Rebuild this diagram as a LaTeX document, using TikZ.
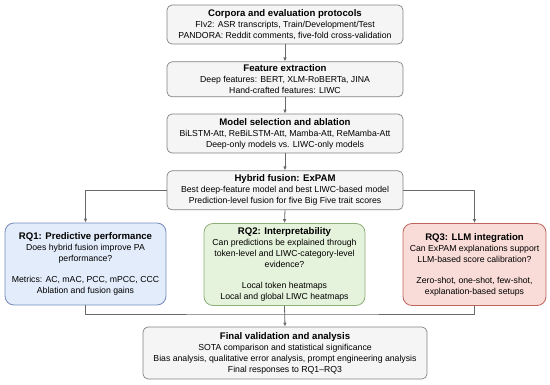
\documentclass[tikz,border=0pt]{standalone}
\usepackage{fontspec}
\setmainfont{Liberation Sans}
\usetikzlibrary{arrows.meta}

\definecolor{boxgray}{RGB}{245,245,245}
\definecolor{edgegray}{RGB}{130,130,130}
\definecolor{linegray}{RGB}{105,105,105}
\definecolor{rqblue}{RGB}{227,236,250}
\definecolor{rqblueedge}{RGB}{116,140,186}
\definecolor{rqgreen}{RGB}{229,242,220}
\definecolor{rqgreenedge}{RGB}{140,176,118}
\definecolor{rqred}{RGB}{249,220,216}
\definecolor{rqrededge}{RGB}{190,100,92}

\newcommand{\boxtitle}[1]{{\fontsize{9.6}{11}\selectfont\bfseries #1}}

\begin{document}
\begin{tikzpicture}[x=1pt,y=-1pt,line cap=round,line join=round,
    txt/.style={font=\fontsize{8.7}{11}\selectfont,align=center,inner sep=0pt},
    stagebox/.style={txt,draw=edgegray,fill=boxgray,line width=0.7pt,rounded corners=5pt,minimum width=236pt},
    rqbox/.style={txt,line width=0.8pt,rounded corners=9pt,minimum height=82pt},
    flow/.style={draw=linegray,line width=0.8pt,-{Latex[length=4pt,width=3.5pt]}},
    link/.style={draw=linegray,line width=0.8pt}]
        % Marco de la figura
        \useasboundingbox (0,0) rectangle (550,384);

        % Etapas principales
        \node[stagebox,minimum height=39pt] (corpora) at (285,24.5)
            {\boxtitle{Corpora and evaluation protocols}\\
             FIv2: ASR transcripts, Train/Development/Test\\
             PANDORA: Reddit comments, five-fold cross-validation};
        \node[stagebox,minimum height=35pt] (features) at (285,79.3)
            {\boxtitle{Feature extraction}\\
             Deep features: BERT, XLM-RoBERTa, JINA\\
             Hand-crafted features: LIWC};
        \node[stagebox,minimum height=39pt] (models) at (285,133.5)
            {\boxtitle{Model selection and ablation}\\
             BiLSTM-Att, ReBiLSTM-Att, Mamba-Att, ReMamba-Att\\
             Deep-only models vs. LIWC-only models};
        \node[stagebox,minimum height=39pt] (fusion) at (285,190.3)
            {\boxtitle{Hybrid fusion: ExPAM}\\
             Best deep-feature model and best LIWC-based model\\
             Prediction-level fusion for five Big Five trait scores};

        % Preguntas de investigación
        \node[rqbox,draw=rqblueedge,fill=rqblue,minimum width=161pt] (rqone) at (85.5,264)
            {\boxtitle{RQ1: Predictive performance}\\
             Does hybrid fusion improve PA\\
             performance?\\[10pt]
             Metrics: AC, mAC, PCC, mPCC, CCC\\
             Ablation and fusion gains};
        \node[rqbox,draw=rqgreenedge,fill=rqgreen,minimum width=161pt] (rqtwo) at (284.5,264.5)
            {\boxtitle{RQ2: Interpretability}\\
             Can predictions be explained through\\
             token-level and LIWC-category-level\\
             evidence?\\[10pt]
             Local token heatmaps\\
             Local and global LIWC heatmaps};
        \node[rqbox,draw=rqrededge,fill=rqred,minimum width=143pt] (rqthree) at (474.5,264.5)
            {\boxtitle{RQ3: LLM integration}\\
             Can ExPAM explanations support\\
             LLM-based score calibration?\\[10pt]
             Zero-shot, one-shot, few-shot,\\
             explanation-based setups};

        % Validación final
        \node[stagebox,minimum width=284pt,minimum height=52pt] (final) at (285,353)
            {\boxtitle{Final validation and analysis}\\
             SOTA comparison and statistical significance\\
             Bias analysis, qualitative error analysis, prompt engineering analysis\\
             Final responses to RQ1--RQ3};

        % Flechas entre etapas
        \draw[flow] (corpora) -- (features);
        \draw[flow] (features) -- (models);
        \draw[flow] (models) -- (fusion);

        % Ramas hacia las preguntas
        \draw[flow] (fusion.west) -| (rqone.north);
        \draw[flow] (fusion.south) -- (rqtwo.north);
        \draw[flow] (fusion.east) -| (rqthree.north);

        % Unión hacia la validación final
        \coordinate (merge) at (285,314);
        \draw[link] (rqone.south) |- (merge) -| (rqthree.south);
        \draw[flow] (rqtwo.south) -- (final.north);
    \end{tikzpicture}
\end{document}
